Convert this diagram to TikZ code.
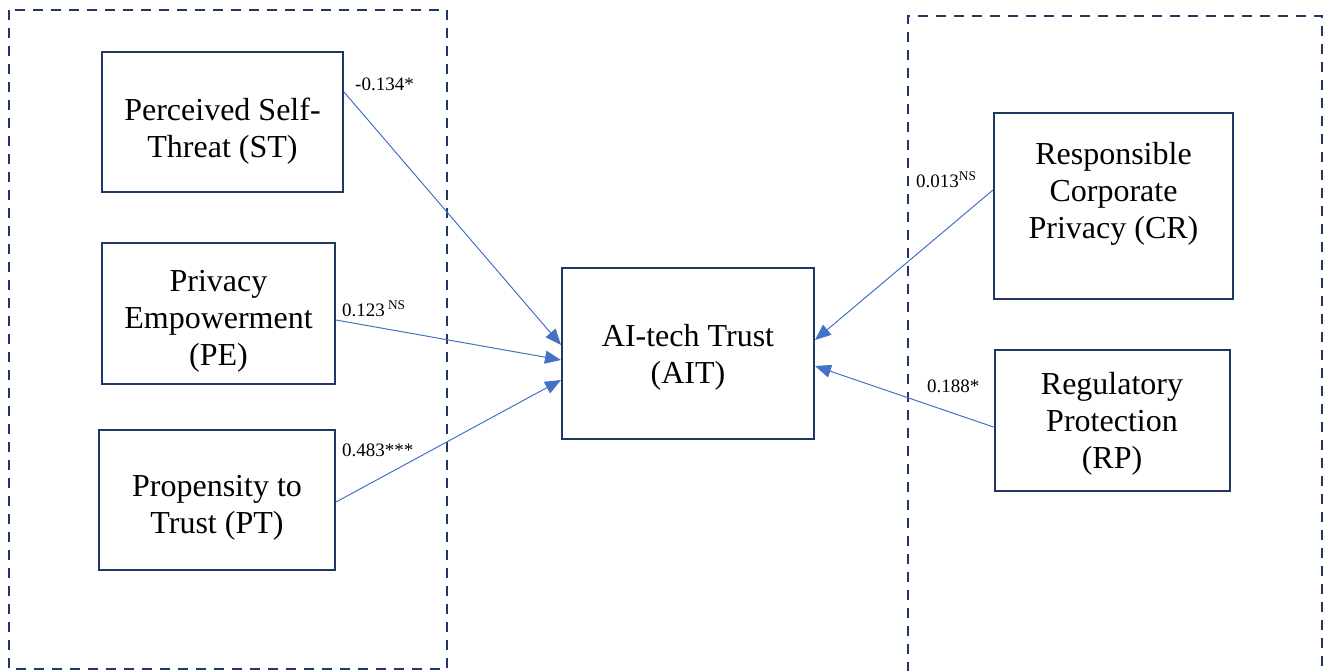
\documentclass[tikz,border=0pt]{standalone}
\usepackage{fontspec}
\setmainfont{Liberation Serif}
\usetikzlibrary{arrows.meta}
\definecolor{navy}{HTML}{203864}
\definecolor{arrowblue}{HTML}{4472C4}
\begin{document}
\begin{tikzpicture}[x=1pt,y=-1pt,
  box/.style={draw=navy, line width=2pt, align=center, font=\fontsize{32}{37}\selectfont, inner sep=0pt, text depth=0pt},
  group/.style={draw=navy, line width=2.5pt, dash pattern=on 10pt off 8pt},
  link/.style={draw=arrowblue, line width=1pt, -{Triangle[length=16pt,width=13pt]}},
  coef/.style={font=\fontsize{19}{22}\selectfont, anchor=base west, inner sep=0pt}
]
\useasboundingbox (0,0) rectangle (1326,670);
% dashed groups
\draw[group] (9,10) rectangle (447,669);
\draw[group] (908,672) -- (908,16) -- (1322,16) -- (1322,672);
% boxes
\node[box, minimum width=241pt, minimum height=140pt, text height=71pt] (ST) at (222.5,122) {Perceived Self-\\Threat (ST)};
\node[box, minimum width=233pt, minimum height=141pt, text height=104pt] (PE) at (218.5,313.5) {Privacy\\Empowerment\\(PE)};
\node[box, minimum width=236pt, minimum height=140pt, text height=67pt] (PT) at (217,500) {Propensity to\\Trust (PT)};
\node[box, minimum width=252pt, minimum height=171pt] (AIT) at (688,353.5) {AI-tech Trust\\(AIT)};
\node[box, minimum width=239pt, minimum height=186pt, text depth=32pt] (CR) at (1113.5,206) {Responsible\\Corporate\\Privacy (CR)};
\node[box, minimum width=235pt, minimum height=141pt] (RP) at (1112,420.5) {Regulatory\\Protection\\(RP)};
% connectors
\draw[link] ([yshift=30pt]ST.east) -- ([yshift=8.5pt]AIT.west);
\draw[link] ([yshift=-6.5pt]PE.east) -- ([yshift=-6.5pt]AIT.west);
\draw[link] ([yshift=-2pt]PT.east) -- ([yshift=-26.5pt]AIT.west);
\draw[link] ([yshift=16pt]CR.west) -- ([yshift=13.5pt]AIT.east);
\draw[link] ([yshift=-6.5pt]RP.west) -- ([yshift=-12.5pt]AIT.east);
% coefficients
\node[coef] (cST) at (355,90) {-0.134*};
\node[coef] (cPE) at (342,316) {0.123\,\textsuperscript{NS}};
\node[coef] (cPT) at (342,456) {0.483***};
\node[coef] (cCR) at (916,187) {0.013\textsuperscript{NS}};
\node[coef] (cRP) at (927,392) {0.188*};
\end{tikzpicture}
\end{document}
